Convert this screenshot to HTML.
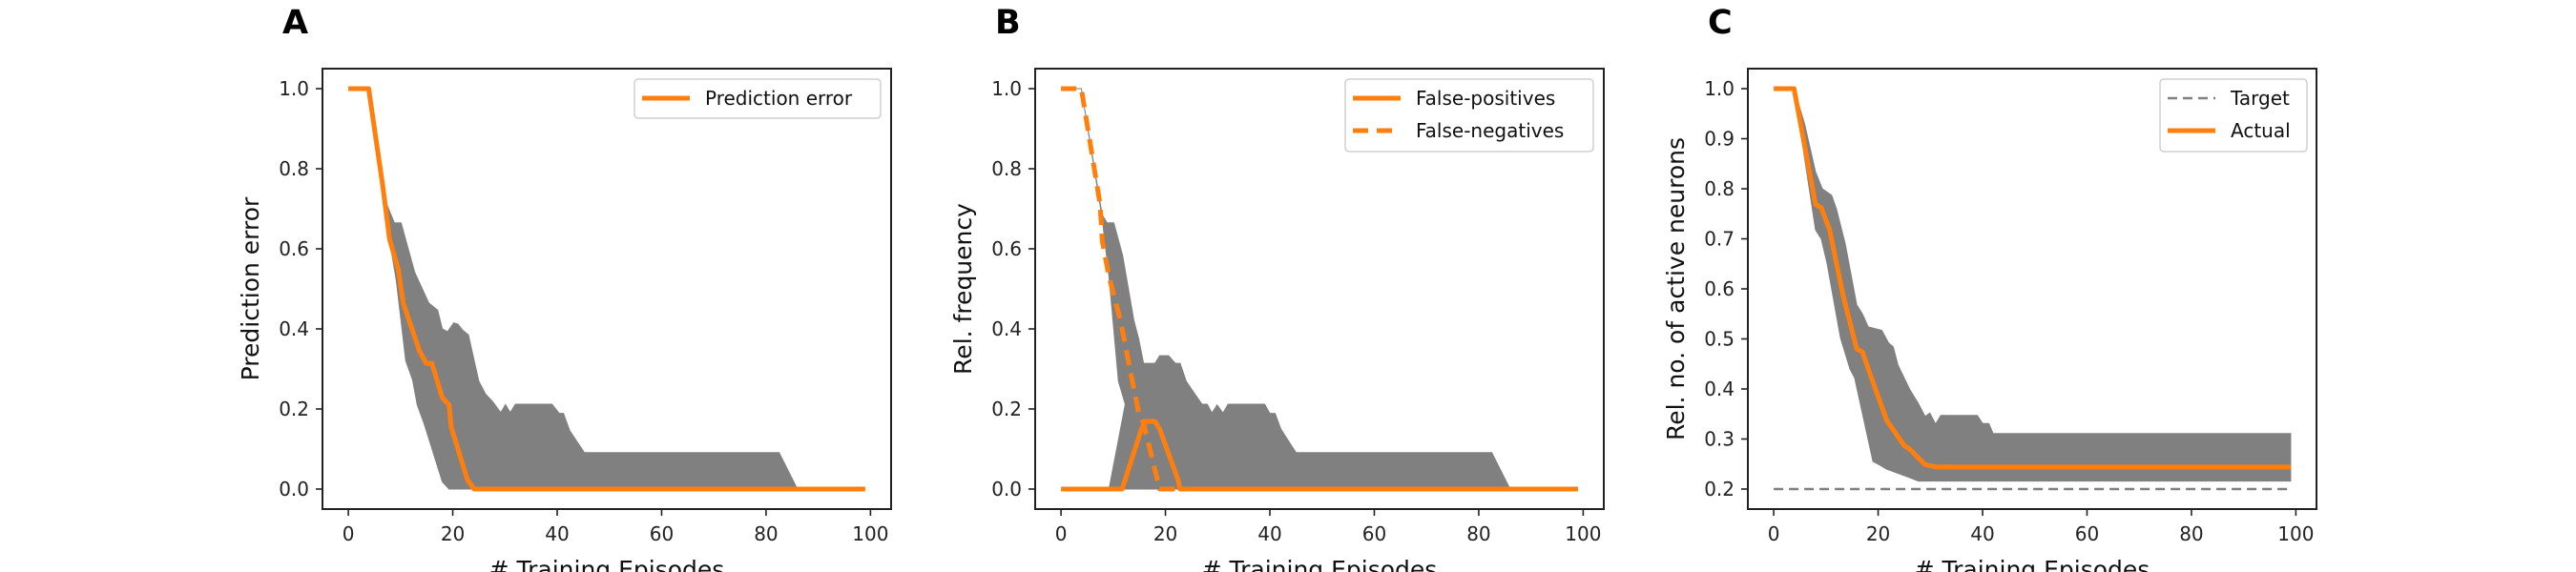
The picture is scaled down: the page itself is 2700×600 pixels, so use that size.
<!DOCTYPE html>
<html><head><meta charset="utf-8"><style>
html,body{margin:0;padding:0;background:#fff;}
svg{display:block;font-family:"DejaVu Sans","Liberation Sans",sans-serif;}
</style></head><body>
<svg id="fig" width="2700" height="600" viewBox="0 0 2700 600" xmlns="http://www.w3.org/2000/svg"></svg>
<script>
// ---- Panel A data ----
const aMeanX = [0,3.9,6.6,7.9,9.6,10.5,13.6,14.9,16,18,19.3,19.7,22.8,24.1,99];
const aMeanY = [1,1,0.757,0.624,0.547,0.465,0.346,0.314,0.314,0.228,0.21,0.155,0.023,0,0];
const aUpX = [0,3.9,7.4,8.8,10.1,12.7,15.4,17.1,18,19,20.2,21,21.9,23,25,26.3,27.6,29.2,30.1,31,32,39,40.4,41.2,42.4,45.2,82.5,86,99];
const aUpY = [1,1,0.71,0.665,0.665,0.542,0.465,0.447,0.40,0.393,0.415,0.412,0.397,0.385,0.269,0.237,0.219,0.191,0.211,0.191,0.212,0.212,0.189,0.189,0.146,0.091,0.091,0,0];
const aLoX = [0,3.9,7.4,8.3,9.2,11,12.3,13.2,14.5,18,19.3,99];
const aLoY = [1,1,0.69,0.59,0.52,0.32,0.273,0.21,0.164,0.018,0,0];
// ---- Panel B data ----
const bFpX = [0,11.7,15.4,16.2,18,18.9,22.4,22.8,99];
const bFpY = [0,0,0.15,0.169,0.169,0.15,0.023,0,0];
const bFnX = [0,3.9,7.5,7.9,9.2,11.4,13.2,14.9,15.8,18.9,99];
const bFnY = [1,1,0.71,0.62,0.53,0.42,0.30,0.19,0.164,0,0];
const bUpX = [0,3.9,7.9,8.8,10.1,11.8,14,14.9,15.8,18,18.9,20.6,21.9,22.8,24,25.4,27,28,28.9,29.9,31,32,39,40,41,42.1,45,82.5,86,99];
const bUpY = [1,1,0.684,0.665,0.665,0.583,0.418,0.374,0.314,0.314,0.333,0.333,0.314,0.314,0.269,0.242,0.212,0.212,0.19,0.21,0.19,0.212,0.212,0.189,0.189,0.15,0.091,0.091,0,0];
const bFnLoX = [0,3.9,7.9,9.2,11,12.3,17];
const bFnLoY = [1,1,0.675,0.53,0.269,0.212,0];
// ---- Panel C data ----
const cMeanX = [0,3.9,8,9.1,10.7,12,13.3,15.9,17,18.1,21.6,23.8,25,26,27.7,29,31.2,99];
const cMeanY = [1,1,0.769,0.762,0.718,0.652,0.586,0.48,0.474,0.44,0.338,0.305,0.287,0.28,0.262,0.249,0.244,0.244];
const cUpX = [0,3.9,5.9,8,9.3,11.1,12,13.7,15.9,17,18.1,20.7,22,22.9,23.8,26,27.7,29,29.9,31,32,39,40,41.2,42,99];
const cUpY = [1,1,0.93,0.834,0.80,0.787,0.76,0.69,0.568,0.55,0.524,0.517,0.492,0.484,0.448,0.40,0.371,0.345,0.352,0.33,0.347,0.347,0.331,0.331,0.311,0.311];
const cLoX = [0,3.9,8,9.1,10.2,12.8,14.6,15.5,19,20.3,21.6,24.2,25.5,27.7,99];
const cLoY = [1,1,0.718,0.70,0.652,0.502,0.44,0.422,0.255,0.248,0.24,0.23,0.225,0.216,0.216];
const cTargetX = [0,99];
const cTargetY = [0.2,0.2];
const xTicks = [0,20,40,60,80,100];
const abTicks = [0,0.2,0.4,0.6,0.8,1.0];
const cTicks = [0.2,0.3,0.4,0.5,0.6,0.7,0.8,0.9,1.0];

const NS="http://www.w3.org/2000/svg";
const svg=document.getElementById('fig');
function mk(tag,attrs,parent){const e=document.createElementNS(NS,tag);for(const k in attrs)e.setAttribute(k,attrs[k]);(parent||svg).appendChild(e);return e;}
const ORANGE="#ff7f0e", GRAY="#808080";

function panel(left,ymin,ymax,yTicks){
  const top=72,bottom=534,right=left+596;
  const x=v=>left+(v+4.95)/108.9*596;
  const y=v=>bottom-(v-ymin)/(ymax-ymin)*(bottom-top);
  return {left,top,bottom,right,x,y,yTicks};
}
function pts(p,xs,ys){return xs.map((v,i)=>p.x(v).toFixed(1)+","+p.y(ys[i]).toFixed(1));}
function band(p,ux,uy,lx,ly,name){
  const up=pts(p,ux,uy), lo=pts(p,lx,ly).reverse();
  const e=mk('polygon',{points:up.concat(lo).join(' '),fill:GRAY,stroke:GRAY,'stroke-width':1});
  
  
}
function line(p,xs,ys,color,w,dash,name){
  const e=mk('polyline',{points:pts(p,xs,ys).join(' '),fill:'none',stroke:color,'stroke-width':w,'stroke-linejoin':'round','stroke-dasharray':dash||'none'});
  
  
}
function axes(p,prefix,ylabel,letter){
  const fr=mk('rect',{x:p.left,y:p.top,width:p.right-p.left,height:p.bottom-p.top,fill:'none',stroke:'#222','stroke-width':2});
  
  
  xTicks.forEach(t=>{
    const X=p.x(t);
    mk('line',{x1:X,x2:X,y1:p.bottom,y2:p.bottom+7,stroke:'#222','stroke-width':1.6});
    const tx=mk('text',{x:X,y:567,'text-anchor':'middle','font-size':20,fill:'#222'});
    tx.textContent=t;
    
    
  });
  p.yTicks.forEach(t=>{
    const Y=p.y(t);
    mk('line',{x1:p.left-7,x2:p.left,y1:Y,y2:Y,stroke:'#222','stroke-width':1.6});
    const tx=mk('text',{x:p.left-14,y:Y+7,'text-anchor':'end','font-size':20,fill:'#222'});
    tx.textContent=t.toFixed(1);
    
    
  });
  const xl=mk('text',{x:(p.left+p.right)/2,y:606,'text-anchor':'middle','font-size':25,fill:'#111'});
  xl.textContent='# Training Episodes';
  
  
  const cy=(p.top+p.bottom)/2, cx=p.left-74;
  const yl=mk('text',{x:cx,y:cy,'text-anchor':'middle','font-size':25,fill:'#111',transform:`rotate(-90 ${cx} ${cy})`,'dominant-baseline':'middle'});
  yl.textContent=ylabel;
  
  
  const lt=mk('text',{x:p.left-42,y:35,'font-size':35,'font-weight':'bold',fill:'#000'});
  lt.textContent=letter;
  
  
}
function legend(x,y,w,entries,prefix){
  const h=entries.length===1?41:76;
  const r=mk('rect',{x:x,y:y,width:w,height:h,rx:4,fill:'#fff','fill-opacity':0.8,stroke:'#d0d0d0','stroke-width':1.5});
  
  
  entries.forEach((e,i)=>{
    const ly=y+20+i*34;
    mk('line',{x1:x+8,x2:x+58,y1:ly,y2:ly,stroke:e.c,'stroke-width':e.w,'stroke-dasharray':e.d||'none'});
    const t=mk('text',{x:x+74,y:ly+7,'font-size':20,fill:'#111'});
    t.textContent=e.t;
    
    
  });
}

// Panel A
const pA=panel(338,-0.05,1.05,abTicks);
band(pA,aUpX,aUpY,aLoX,aLoY,'a-error-band');
line(pA,aMeanX,aMeanY,ORANGE,5,null,'a-prediction-error-line');
axes(pA,'a','Prediction error','A');
legend(665,83,258,[{t:'Prediction error',c:ORANGE,w:5}],'a');

// Panel B
const pB=panel(1085,-0.05,1.05,abTicks);
const nFn=bUpX.filter(v=>v<=14.9).length;
band(pB,bUpX.slice(0,nFn),bUpY.slice(0,nFn),bFnLoX,bFnLoY,'b-false-negative-band');
const nFpStart=bUpX.length-bUpX.filter(v=>v>12.3).length;
band(pB,[9.2,12.3].concat(bUpX.slice(nFpStart)),[0,0.212].concat(bUpY.slice(nFpStart)),[9.2,99],[0,0],'b-false-positive-band');
line(pB,bFnX,bFnY,ORANGE,5,'16 9','b-false-negatives-line');
line(pB,bFpX,bFpY,ORANGE,5,null,'b-false-positives-line');
axes(pB,'b','Rel. frequency','B');
legend(1410,83,260,[{t:'False-positives',c:ORANGE,w:5},{t:'False-negatives',c:ORANGE,w:5,d:'16 9'}],'b');

// Panel C
const pC=panel(1832,0.16,1.04,cTicks);
band(pC,cUpX,cUpY,cLoX,cLoY,'c-active-band');
line(pC,cTargetX,cTargetY,GRAY,2.5,'10 6','c-target-line');
line(pC,cMeanX,cMeanY,ORANGE,5,null,'c-actual-line');
axes(pC,'c','Rel. no. of active neurons','C');
legend(2264,83,154,[{t:'Target',c:GRAY,w:2.5,d:'10 6'},{t:'Actual',c:ORANGE,w:5}],'c');
</script>
</body></html>
